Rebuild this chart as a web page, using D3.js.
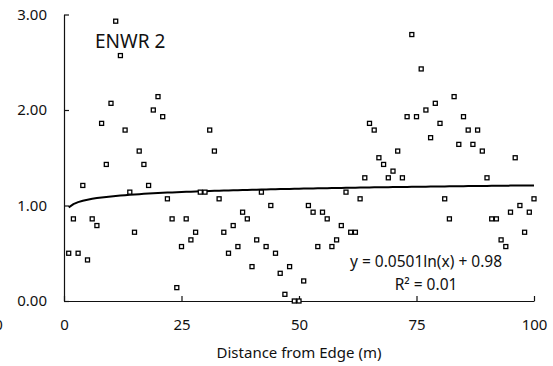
<!DOCTYPE html>
<html>
<head>
<meta charset="utf-8">
<title>ENWR 2</title>
<style>
  body { margin: 0; background: #fff; }
  svg { display: block; font-family: "Noto Sans", sans-serif; }
  .axis text { font-size: 15px; fill: #111; font-family: "Noto Sans", sans-serif; }
  .axis path, .axis line { stroke: #111; stroke-width: 1.2; }
</style>
<script src="https://cdn.jsdelivr.net/npm/d3@7"></script>
</head>
<body>
<svg id="chart" width="553" height="366"></svg>
<script>
// distance from edge (m)
var distance = [];
for (var d = 1; d <= 100; d++) distance.push(d);

var values = [
  0.50, 0.86, 0.50, 1.21, 0.43, 0.86, 0.79, 1.86, 1.43, 2.07,
  2.93, 2.57, 1.79, 1.14, 0.72, 1.57, 1.43, 1.21, 2.00, 2.14,
  1.93, 1.07, 0.86, 0.14, 0.57, 0.86, 0.64, 0.72, 1.14, 1.14,
  1.79, 1.57, 1.07, 0.72, 0.50, 0.79, 0.57, 0.93, 0.86, 0.36,
  0.64, 1.14, 0.57, 1.00, 0.50, 0.29, 0.07, 0.36, 0.00, 0.00,
  0.21, 1.00, 0.93, 0.57, 0.93, 0.86, 0.57, 0.64, 0.79, 1.14,
  0.72, 0.72, 1.07, 1.29, 1.86, 1.79, 1.50, 1.43, 1.29, 1.36,
  1.57, 1.29, 1.93, 2.79, 1.93, 2.43, 2.00, 1.71, 2.07, 1.86,
  1.07, 0.86, 2.14, 1.64, 1.93, 1.79, 1.64, 1.79, 1.57, 1.29,
  0.86, 0.86, 0.64, 0.57, 0.93, 1.50, 1.00, 0.72, 0.93, 1.07
];

var xTicks = [0, 25, 50, 75, 100];
var yTicks = [0, 1, 2, 3];

// logarithmic trendline as printed on the chart
var trendA = 0.0501, trendB = 0.98;
var equationLabel = "y = 0.0501ln(x) + 0.98";
var r2Label = "R² = 0.01";

var svg = d3.select("#chart");
var x = d3.scaleLinear().domain([0, 100]).range([64, 534]);
var y = d3.scaleLinear().domain([0, 3]).range([301, 14.5]);

svg.append("g")
  .attr("class", "axis")
  .attr("transform", "translate(0,301)")
  .call(d3.axisBottom(x).tickValues(xTicks).tickSizeInner(-5).tickSizeOuter(0).tickPadding(18));

svg.append("g")
  .attr("class", "axis")
  .attr("transform", "translate(64,0)")
  .call(d3.axisLeft(y).tickValues(yTicks).tickSizeInner(-5).tickSizeOuter(0).tickPadding(17)
    .tickFormat(d3.format(".2f")));

// label cut by the left edge, as in the original
svg.append("text")
  .attr("x", -1.5).attr("y", 330)
  .attr("text-anchor", "middle")
  .attr("font-size", 15).attr("fill", "#111")
  .text("0");

var line = d3.line()
  .x(function (d) { return x(d); })
  .y(function (d) { return y(trendA * Math.log(d) + trendB); });

svg.append("path")
  .datum(distance)
  .attr("fill", "none")
  .attr("stroke", "#000")
  .attr("stroke-width", 2)
  .attr("d", line);

svg.selectAll("rect.pt")
  .data(values)
  .enter().append("rect")
  .attr("class", "pt")
  .attr("x", function (d, i) { return x(distance[i]) - 2; })
  .attr("y", function (d) { return y(d) - 2; })
  .attr("width", 4)
  .attr("height", 4)
  .attr("fill", "#fff")
  .attr("stroke", "#000")
  .attr("stroke-width", 1.3);

svg.append("text")
  .attr("x", 95).attr("y", 48)
  .attr("font-size", 19).attr("fill", "#111")
  .text("ENWR 2");

svg.append("text")
  .attr("x", 426).attr("y", 267)
  .attr("text-anchor", "middle")
  .attr("font-size", 15.5).attr("fill", "#111")
  .text(equationLabel);

svg.append("text")
  .attr("x", 426).attr("y", 290)
  .attr("text-anchor", "middle")
  .attr("font-size", 15.5).attr("fill", "#111")
  .text(r2Label);

svg.append("text")
  .attr("x", 299).attr("y", 358)
  .attr("text-anchor", "middle")
  .attr("font-size", 15).attr("fill", "#111")
  .text("Distance from Edge (m)");
</script>
</body>
</html>
